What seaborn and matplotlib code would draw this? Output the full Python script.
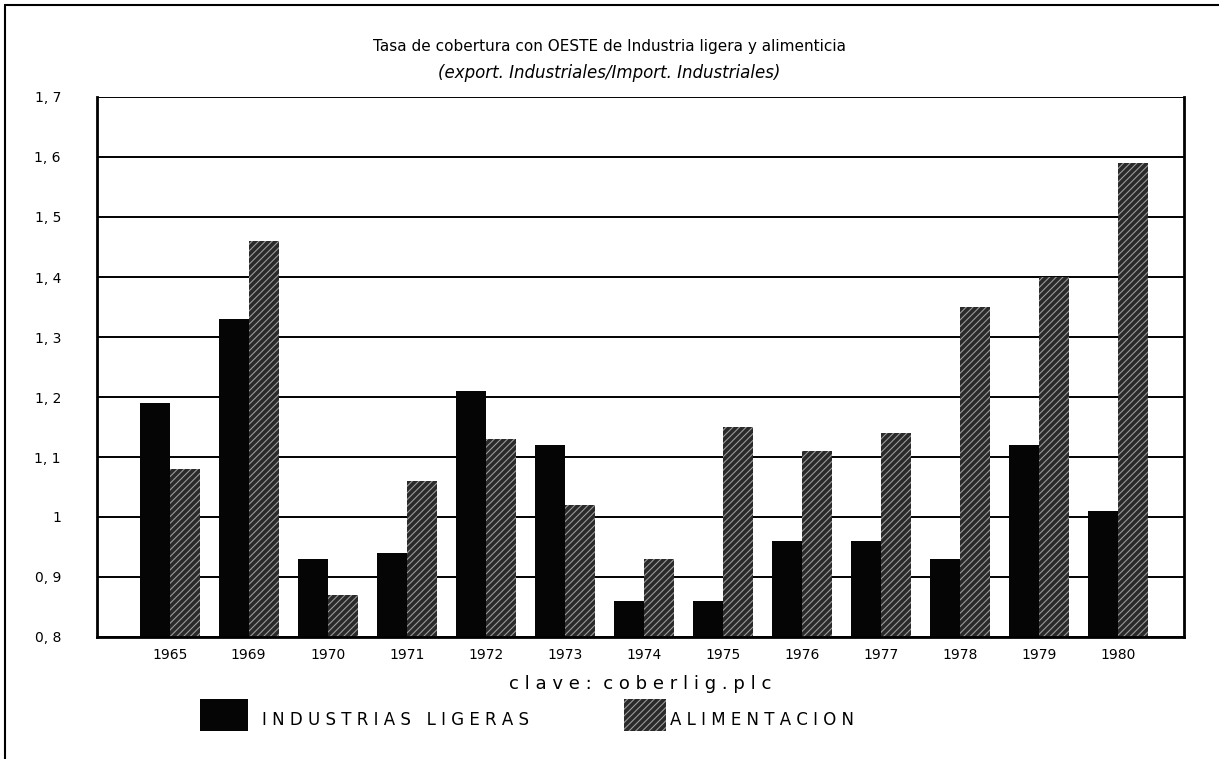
import matplotlib
matplotlib.use("Agg")
import matplotlib.pyplot as plt
import matplotlib.patches as mpatches
import seaborn as sns
import pandas as pd

# values
years = ["1965", "1969", "1970", "1971", "1972", "1973", "1974",
         "1975", "1976", "1977", "1978", "1979", "1980"]
ligeras = [1.19, 1.33, 0.93, 0.94, 1.21, 1.12, 0.86, 0.86, 0.96, 0.96, 0.93, 1.12, 1.01]
alimentacion = [1.08, 1.46, 0.87, 1.06, 1.13, 1.02, 0.93, 1.15, 1.11, 1.14, 1.35, 1.40, 1.59]
series = ["INDUSTRIAS LIGERAS", "ALIMENTACION"]
yticks = [0.8, 0.9, 1.0, 1.1, 1.2, 1.3, 1.4, 1.5, 1.6, 1.7]

df = pd.DataFrame({
    "year": years * 2,
    "value": ligeras + alimentacion,
    "serie": [series[0]] * len(years) + [series[1]] * len(years),
})

sns.set_theme(style="white")
plt.rcParams["font.family"] = ["DejaVu Sans"]
plt.rcParams["text.color"] = "black"
plt.rcParams["xtick.color"] = "black"
plt.rcParams["ytick.color"] = "black"
plt.rcParams["hatch.linewidth"] = 0.8

fig = plt.figure(figsize=(12.19, 7.59), dpi=100)
ax = fig.add_axes([97 / 1219, 1 - 637 / 759, (1184 - 97) / 1219, (637 - 97) / 759])

# horizontal rules behind bars
for v in yticks:
    ax.axhline(v, color="black", lw=1.4, zorder=0)

sns.barplot(data=df, x="year", y="value", hue="serie", hue_order=series,
            palette=["#050505", "#2a2a2a"], width=0.76, saturation=1,
            legend=False, ax=ax, zorder=2)

n = len(years)
for i, bar in enumerate(ax.patches):
    if i >= n:
        bar.set_hatch("/////")
        bar.set_edgecolor("#9a9a9a")
    else:
        bar.set_edgecolor("black")
    bar.set_linewidth(0)

ax.set_ylim(0.8, 1.7)
ax.set_xlim(-0.92, 12.84)
ax.set_yticks(yticks)
ax.set_yticklabels([("%g" % v).replace(".", ", ") for v in yticks],
                   fontsize=10, color="black")
ax.tick_params(axis="x", labelsize=10, pad=8, length=0, labelcolor="black")
ax.tick_params(axis="y", pad=26, length=0)
ax.set_xlabel("")
ax.set_ylabel("")
for side in ["left", "bottom", "right"]:
    ax.spines[side].set_color("black")
    ax.spines[side].set_linewidth(2)
ax.spines["top"].set_visible(False)

fig.text(0.5, 1 - 47 / 759, "Tasa de cobertura con OESTE de Industria ligera y alimenticia",
         ha="center", va="center", fontsize=11, color="black")
fig.text(0.5, 1 - 73 / 759, "(export. Industriales/Import. Industriales)",
         ha="center", va="center", fontsize=12, style="italic", color="black")
fig.text(640 / 1219, 1 - 684 / 759, "c l a v e :  c o b e r l i g . p l c",
         ha="center", va="center", fontsize=13, color="black")

# legend drawn as figure patches and text
fig.patches.append(mpatches.Rectangle((200 / 1219, 1 - 731 / 759), 48 / 1219, 32 / 759,
                                      transform=fig.transFigure, facecolor="#050505",
                                      edgecolor="none"))
fig.text(262 / 1219, 1 - 720 / 759, "I N D U S T R I A S   L I G E R A S",
         ha="left", va="center", fontsize=12, color="black")
fig.patches.append(mpatches.Rectangle((624 / 1219, 1 - 731 / 759), 42 / 1219, 32 / 759,
                                      transform=fig.transFigure, facecolor="#2a2a2a",
                                      edgecolor="#9a9a9a", lw=0, hatch="/////"))
fig.text(670 / 1219, 1 - 720 / 759, "A L I M E N T A C I O N",
         ha="left", va="center", fontsize=12, color="black")

# outer frame of the scanned page
fig.add_artist(plt.Line2D([5 / 1219, 5 / 1219], [0, 1 - 5 / 759], color="black", lw=1.5,
                          transform=fig.transFigure))
fig.add_artist(plt.Line2D([5 / 1219, 1], [1 - 5 / 759, 1 - 5 / 759], color="black", lw=1.5,
                          transform=fig.transFigure))

fig.savefig("out.png", dpi=100, facecolor="white")
